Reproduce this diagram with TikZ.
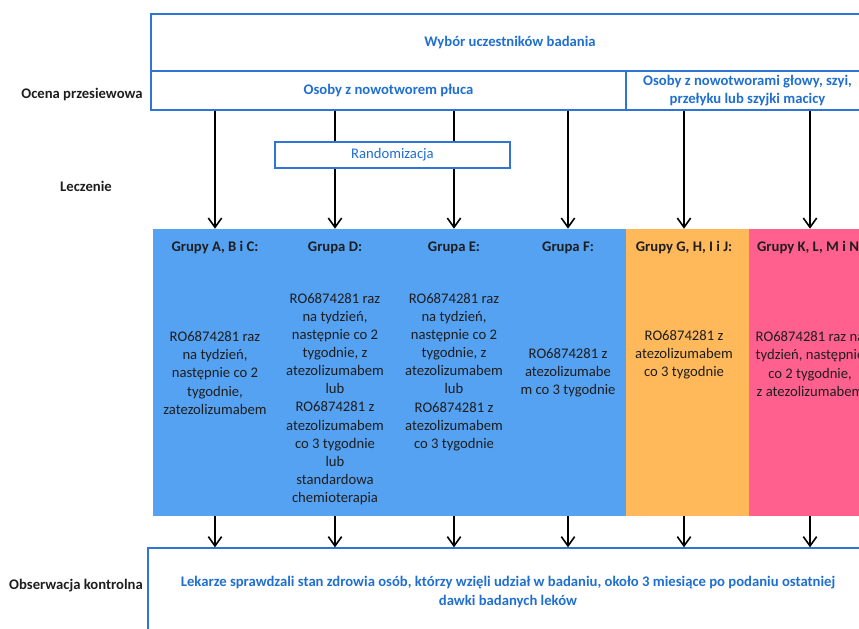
\documentclass[tikz,border=0pt]{standalone}
\usepackage{fontspec}
\setmainfont{Carlito}
\usetikzlibrary{arrows.meta,positioning,fit}
\definecolor{frameCol}{RGB}{46,117,214}
\definecolor{headCol}{RGB}{31,111,208}
\definecolor{blueCol}{RGB}{85,162,242}
\definecolor{orangeCol}{RGB}{255,185,90}
\definecolor{pinkCol}{RGB}{255,96,142}
\definecolor{inkCol}{RGB}{30,30,30}
\tikzset{
  frame/.style={draw=frameCol,line width=1pt,inner sep=0pt},
  head/.style={align=center,text=headCol,font=\bfseries},
  band/.style={inner sep=0pt},
  grp/.style={font=\bfseries,text=inkCol},
  dose/.style={align=center,text=inkCol},
  side/.style={font=\bfseries,text=inkCol},
  flow/.style={-{Straight Barb[length=7pt,width=10pt,line width=1.2pt]},line width=1.4pt},
}
\begin{document}
\fontsize{11}{13.6}\selectfont
\begin{tikzpicture}[x=0.75pt,y=-0.75pt]
    \useasboundingbox (0,0) rectangle (859,628);
    \clip (0,0) rectangle (859,628);
    % --- selection and screening ---
    \node[frame,fit={(151,14) (869,71)}] (sel) {};
    \node[frame,fit={(151,71) (626,110)}] (lung) {};
    \node[frame,fit={(626,71) (869,110)}] (hnc) {};
    \node[head] (selT) at (sel.center) {Wybór uczestników badania};
    \node[head] (lungT) at (lung.center) {Osoby z nowotworem płuca};
    \node[head] (hncT) at (hnc.center) {Osoby z nowotworami głowy, szyi,\\przełyku lub szyjki macicy};
    % --- treatment bands ---
    \node[band,fill=blueCol,fit={(153,229) (626,516)}] (blue) {};
    \node[band,fill=orangeCol,fit={(626,229) (749,516)}] (orange) {};
    \node[band,fill=pinkCol,fit={(749,229) (871,516)}] (pink) {};
    \node[grp] (gA) at (215,248) {Grupy A, B i C:};
    \node[grp] (gD) at (335,248) {Grupa D:};
    \node[grp] (gE) at (454,248) {Grupa E:};
    \node[grp] (gF) at (568,248) {Grupa F:};
    \node[grp] (gG) at (684,248) {Grupy G, H, I i J:};
    \node[grp] (gK) at (810,248) {Grupy K, L, M i N:};
    \node[dose] (dA) at (215,373) {RO6874281 raz\\na tydzień,\\następnie co 2\\tygodnie,\\zatezolizumabem};
    \node[dose] (dD) at (335,399) {RO6874281 raz\\na tydzień,\\następnie co 2\\tygodnie, z\\atezolizumabem\\lub\\RO6874281 z\\atezolizumabem\\co 3 tygodnie\\lub\\standardowa\\chemioterapia};
    \node[dose] (dE) at (454,372) {RO6874281 raz\\na tydzień,\\następnie co 2\\tygodnie, z\\atezolizumabem\\lub\\RO6874281 z\\atezolizumabem\\co 3 tygodnie};
    \node[dose] (dF) at (568,373) {RO6874281 z\\atezolizumabe\\m co 3 tygodnie};
    \node[dose] (dG) at (684,355) {RO6874281 z\\atezolizumabem\\co 3 tygodnie};
    \node[dose] (dK) at (810,364) {RO6874281 raz na\\tydzień, następnie\\co 2 tygodnie,\\z atezolizumabem};
    % --- follow-up ---
    \node[frame,fit={(148,548) (868,640)}] (obs) {};
    \node[head] (obsT) at (508,592) {Lekarze sprawdzali stan zdrowia osób, którzy wzięli udział w badaniu, około 3 miesiące po podaniu ostatniej\\dawki badanych leków};
    % --- arrows ---
    \foreach \g/\s/\b in {gA/lung/blue,gD/lung/blue,gE/lung/blue,gF/lung/blue,gG/hnc/orange,gK/hnc/pink}{
      \draw[flow] (\g |- \s.south) -- (\g |- \b.north);
      \draw[flow] (\g |- \b.south) -- (\g |- obs.north);
    }
    \node[frame,fill=white,fit={(275,142) (510,168)}] (rand) {};
    \node[head,font=\mdseries] (randT) at (rand.center) {Randomizacja};
    % --- phase labels ---
    \node[side] (screen) at (82,95) {Ocena przesiewowa};
    \node[side] (treat) at (86,186) {Leczenie};
    \node[side] (follow) at (76,586) {Obserwacja kontrolna};
\end{tikzpicture}
\end{document}
